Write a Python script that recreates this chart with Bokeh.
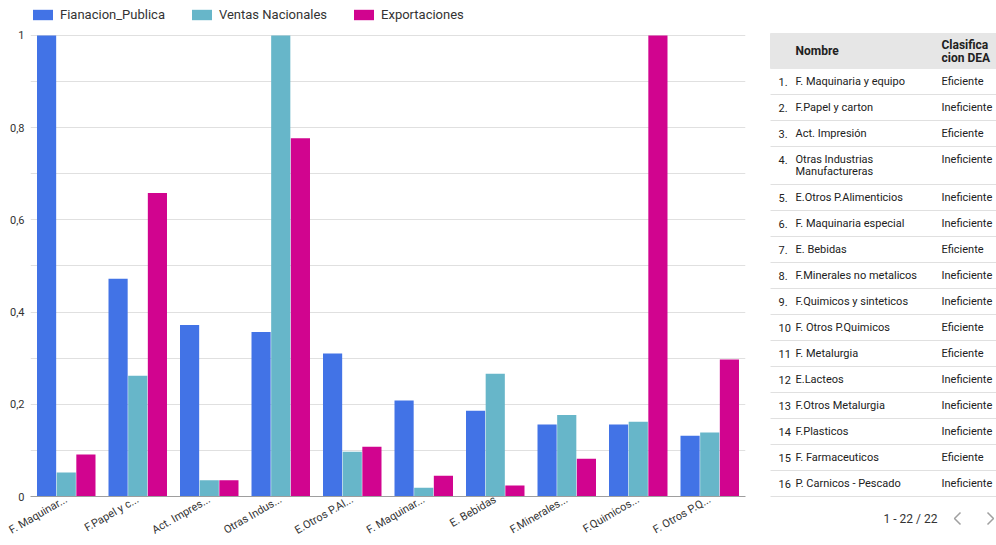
import math
import textwrap
from bokeh.plotting import figure
from bokeh.models import (ColumnDataSource, Range1d, FixedTicker, CustomJSTickFormatter,
                          Legend, LegendItem)
from bokeh.layouts import row, column
from bokeh.transform import dodge
from bokeh.embed import file_html
from bokeh.resources import INLINE
from bokeh.core.properties import value

# ---------------- data ----------------
categories = ["F. Maquinaria y equipo", "F.Papel y carton", "Act. Impresión",
              "Otras Industrias Manufactureras", "E.Otros P.Alimenticios",
              "F. Maquinaria especial", "E. Bebidas", "F.Minerales no metalicos",
              "F.Quimicos y sinteticos", "F. Otros P.Quimicos"]
tick_labels = ["F. Maquinar...", "F.Papel y c...", "Act. Impres...", "Otras Indus...",
               "E.Otros P.Al...", "F. Maquinar...", "E. Bebidas", "F.Minerales...",
               "F.Quimicos...", "F. Otros P.Q..."]
fianacion_publica = [1.0, 0.472, 0.372, 0.357, 0.310, 0.208, 0.186, 0.156, 0.156, 0.132]
ventas_nacionales = [0.052, 0.262, 0.035, 1.0, 0.097, 0.019, 0.266, 0.177, 0.162, 0.139]
exportaciones = [0.091, 0.658, 0.035, 0.777, 0.108, 0.045, 0.024, 0.082, 1.0, 0.297]
series_names = ["Fianacion_Publica", "Ventas Nacionales", "Exportaciones"]
series_colors = ["#4273e6", "#67b6c9", "#d1048f"]
y_major_ticks = [0, 0.2, 0.4, 0.6, 0.8, 1.0]
y_minor_ticks = [0.1, 0.3, 0.5, 0.7, 0.9]

table_header = ["Nombre", "Clasifica\ncion DEA"]
table_names = ["F. Maquinaria y equipo", "F.Papel y carton", "Act. Impresión",
               "Otras Industrias Manufactureras", "E.Otros P.Alimenticios",
               "F. Maquinaria especial", "E. Bebidas", "F.Minerales no metalicos",
               "F.Quimicos y sinteticos", "F. Otros P.Quimicos", "F. Metalurgia",
               "E.Lacteos", "F.Otros Metalurgia", "F.Plasticos", "F. Farmaceuticos",
               "P. Carnicos - Pescado"]
table_class = ["Eficiente", "Ineficiente", "Eficiente", "Ineficiente", "Ineficiente",
               "Ineficiente", "Eficiente", "Ineficiente", "Ineficiente", "Eficiente",
               "Eficiente", "Ineficiente", "Ineficiente", "Ineficiente", "Eficiente",
               "Ineficiente"]
total_rows = 22

FONT = "Roboto"

# ---------------- chart ----------------
FRAME_H = 497          # frame spans the top 497 px of the 545 px figure
TOTAL_H = 545
BOTTOM = TOTAL_H - FRAME_H
PX_PER_UNIT = 462
y_top = FRAME_H / PX_PER_UNIT

p = figure(width=766, height=TOTAL_H, x_range=Range1d(-0.5, len(categories) - 0.5),
           y_range=Range1d(0, y_top), output_backend="svg", toolbar_location=None,
           min_border_left=30, min_border_right=21, min_border_top=0,
           min_border_bottom=BOTTOM)
p.outline_line_color = None

idx = list(range(len(categories)))
src = ColumnDataSource(dict(x=idx, fp=fianacion_publica, vn=ventas_nacionales, ex=exportaciones))
offsets = [-0.275, 0.0, 0.275]
cols = ["fp", "vn", "ex"]
renderers = []
for off, c, col in zip(offsets, series_colors, cols):
    r = p.vbar(x=dodge("x", off), top=col, width=0.268, bottom=0, source=src,
               fill_color=c, line_color=None)
    renderers.append(r)

# axes
p.yaxis.ticker = FixedTicker(ticks=y_major_ticks, minor_ticks=y_minor_ticks)
p.yaxis.formatter = CustomJSTickFormatter(
    code="var s = tick.toFixed(1).replace('.', ','); return s.replace(',0', '');")
p.yaxis.axis_line_color = None
p.yaxis.major_tick_line_color = None
p.yaxis.minor_tick_line_color = None
p.yaxis.major_tick_out = 0
p.yaxis.minor_tick_out = 0
p.yaxis.major_label_text_font = FONT
p.yaxis.major_label_text_font_size = "11px"
p.yaxis.major_label_text_color = "#333333"
p.yaxis.major_label_standoff = 6

p.xaxis.ticker = FixedTicker(ticks=idx)
p.xaxis.major_label_overrides = {i: lab for i, lab in zip(idx, tick_labels)}
p.xaxis.major_label_orientation = math.pi / 6
p.xaxis.major_tick_line_color = None
p.xaxis.minor_tick_line_color = None
p.xaxis.major_tick_out = 0
p.xaxis.minor_tick_out = 0
p.xaxis.axis_line_color = "#9e9e9e"
p.xaxis.axis_line_width = 1
p.xaxis.major_label_text_font = FONT
p.xaxis.major_label_text_font_size = "11px"
p.xaxis.major_label_text_color = "#333333"
p.xaxis.major_label_standoff = 2

p.xgrid.visible = False
p.ygrid.ticker = FixedTicker(ticks=y_major_ticks, minor_ticks=y_minor_ticks)
p.ygrid.grid_line_color = "#e0e0e0"
p.ygrid.minor_grid_line_color = "#e0e0e0"

legend = Legend(items=[LegendItem(label=n, renderers=[r]) for n, r in zip(series_names, renderers)],
                orientation="horizontal", location=(0, FRAME_H - 23),
                glyph_width=25, glyph_height=13, label_height=13, label_standoff=5,
                spacing=24, padding=0, margin=0, border_line_color=None,
                background_fill_alpha=0, label_text_font=FONT,
                label_text_font_size="13px", label_text_color="#333333")
p.add_layout(legend)

# ---------------- table ----------------
X0, X1 = 766, 996
t = figure(width=X1 - X0, height=FRAME_H, x_range=Range1d(X0, X1), y_range=Range1d(FRAME_H, 0),
           output_backend="svg", toolbar_location=None, min_border=0,
           x_axis_location=None, y_axis_location=None)
t.outline_line_color = None
t.grid.visible = False

HEAD_TOP, HEAD_BOT = 33, 68
X_LEFT, X_NUM, X_NAME, X_CLASS, X_RIGHT = 770, 778, 795, 941, 996
t.quad(left=X_LEFT, right=X_RIGHT, top=HEAD_TOP, bottom=HEAD_BOT, color="#e6e6e6")

head_lines = table_header[1].split("\n")
hx = [X_NAME] + [X_CLASS] * len(head_lines)
hmid = (HEAD_TOP + HEAD_BOT) / 2
hy = [hmid] + [hmid - 6.5 + 13 * k for k in range(len(head_lines))]
htxt = [table_header[0]] + head_lines
t.text(x=hx, y=hy, text=htxt, text_font=value(FONT), text_font_style="bold",
       text_font_size="12px", text_baseline="middle", text_color="#212121")

tx, ty, tt = [], [], []
line_ys = []
y = HEAD_BOT
for i, (name, cls) in enumerate(zip(table_names, table_class)):
    lines = textwrap.wrap(name, 26)
    h = 26 + 12 * (len(lines) - 1)
    rank = f"{i + 1}." if i + 1 < 10 else f"{i + 1}"
    tx.append(X_NUM); ty.append(y + 13); tt.append(rank)
    for k, ln in enumerate(lines):
        tx.append(X_NAME); ty.append(y + 13 + 12 * k); tt.append(ln)
    tx.append(X_CLASS); ty.append(y + 13); tt.append(cls)
    y += h
    line_ys.append(y)

t.text(x=tx, y=ty, text=tt, text_font=value(FONT), text_font_size="11px",
       text_baseline="middle", text_color="#212121")
t.segment(x0=[X_LEFT] * len(line_ys), x1=[X_RIGHT] * len(line_ys), y0=line_ys, y1=line_ys,
          line_color="#e0e0e0", line_width=1)

# ---------------- pagination ----------------
pg = figure(width=X1 - X0, height=BOTTOM, x_range=Range1d(X0, X1),
            y_range=Range1d(TOTAL_H, FRAME_H), output_backend="svg", toolbar_location=None,
            min_border=0, x_axis_location=None, y_axis_location=None)
pg.outline_line_color = None
pg.grid.visible = False
pg.text(x=[883], y=[518], text=[f"1 - {total_rows} / {total_rows}"], text_font=value(FONT),
        text_font_size="12px", text_baseline="middle", text_color="#333333")
pg.multi_line(xs=[[960, 954, 960], [987, 993, 987]], ys=[[512, 518, 524], [512, 518, 524]],
              line_color="#a0a0a0", line_width=1.5)

layout = row(p, column(t, pg, spacing=0), spacing=0)
open("out.html", "w").write(file_html(layout, INLINE))
